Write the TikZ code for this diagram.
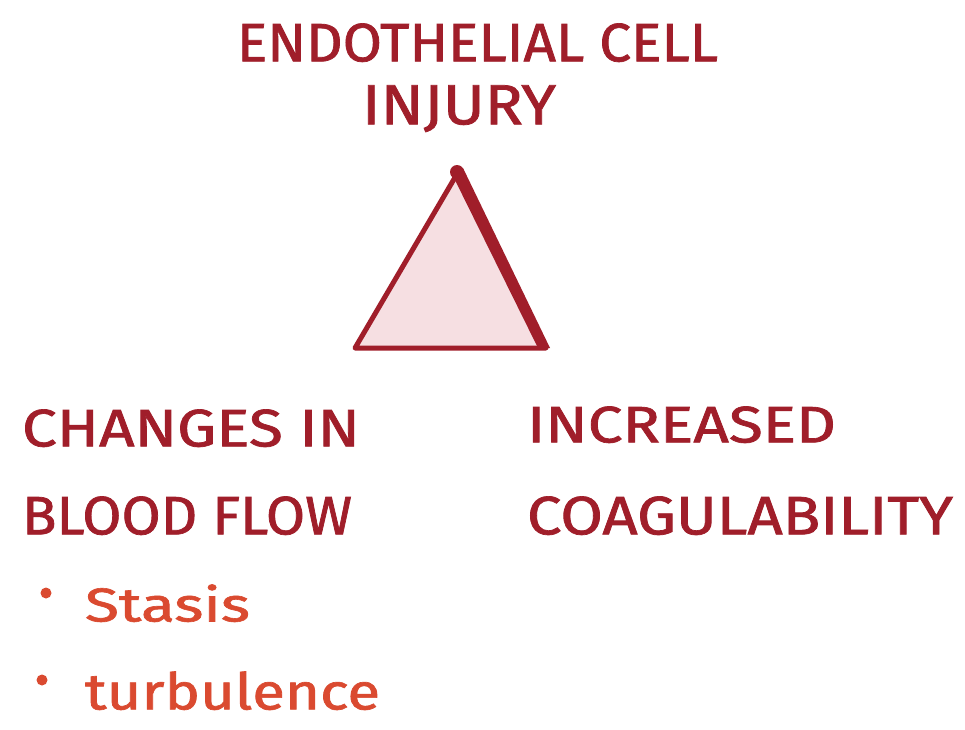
\documentclass[tikz,border=0pt]{standalone}
\usepackage{fontspec}
\setmainfont{Fira Sans}
\newfontfamily\hand{Fira Sans}[FakeBold=1.3]
\definecolor{darkred}{HTML}{A01E2A}
\definecolor{bulletred}{HTML}{DA4A30}
\definecolor{trifill}{HTML}{F6DFE2}
\begin{document}
\begin{tikzpicture}[x=1pt,y=-1pt,
  lbl/.style={anchor=south west,inner sep=0pt,outer sep=0pt,text=darkred,font=\hand\fontsize{55}{60}\selectfont},
  sub/.style={anchor=south west,inner sep=0pt,outer sep=0pt,text=bulletred,font=\hand\fontsize{55}{60}\selectfont},
  dotb/.style={circle,fill=bulletred,inner sep=0pt,minimum size=11pt}]
\useasboundingbox[fill=white] (0,0) rectangle (965,729);
% title
\node[lbl] (t1) at (237,62) {\resizebox{481pt}{38pt}{ENDOTHELIAL CELL}};
\node[lbl] (t2) at (362,132) {\resizebox{194pt}{39pt}{INJURY}};
% triangle
\filldraw[fill=trifill,draw=darkred,line width=5pt,line join=round] (457,174) -- (355,348) -- (546,348) -- cycle;
\fill[darkred] (451,172) -- (463,168) -- (550,348) -- (539,350) -- cycle;
\fill[darkred] (457,172) circle (7pt);
% left
\node[lbl] (l1) at (22,447) {\resizebox{338pt}{37pt}{CHANGES IN}};
\node[lbl] (l2) at (22,535) {\resizebox{330pt}{38pt}{BLOOD FLOW}};
% right
\node[lbl] (r1) at (527,443) {\resizebox{309pt}{36pt}{INCREASED}};
\node[lbl] (r2) at (527,535) {\resizebox{426pt}{38pt}{COAGULABILITY}};
% bullets
\node[dotb] (d1) at (46,593) {};
\node[sub] (s1) at (85,622) {\resizebox{165pt}{37pt}{Stasis}};
\node[dotb] (d2) at (42,680) {};
\node[sub] (s2) at (85,710) {\resizebox{295pt}{38pt}{turbulence}};
\end{tikzpicture}
\end{document}
